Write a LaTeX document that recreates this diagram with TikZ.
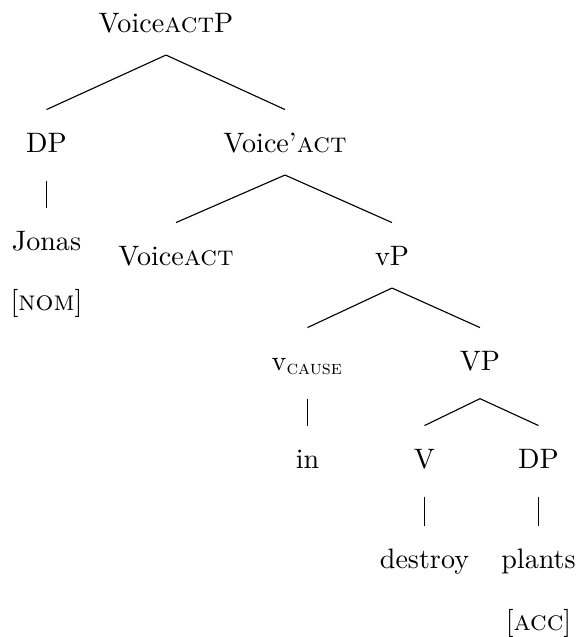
\documentclass[tikz,border=0pt]{standalone}

\tikzset{
  cat/.style={anchor=base, inner xsep=0pt, inner ysep=8pt, text height=6.9pt, text depth=#1},
  cat/.default=2pt,
  branch/.style={thin},
}

\begin{document}
\begin{tikzpicture}[x=0.3559pt, y=-0.3559pt]
\useasboundingbox (0,0) rectangle (578,637);
% categories, top down
\node[cat=-2.5pt] (voiceactp) at (166,32) {Voice\textsc{act}P};
\node[cat] (dpsubj) at (46.5,152) {DP};
\node[cat=-1.8pt] (voicebar) at (285,152) {Voice'\textsc{act}};
\node[cat] (jonas) at (46.5,250) {Jonas};
\node[cat] (nom) at (46.5,310) {[\textsc{nom}]};
\node[cat] (voicehead) at (176,265) {Voice\textsc{act}};
\node[cat=-0.4pt] (vp) at (392,265) {vP};
\node[cat] (vcause) at (307.5,370) {v\textsubscript{\textsc{cause}}};
\node[cat] (bigvp) at (480,370) {VP};
\node[cat] (in) at (307.5,468) {in};
\node[cat] (verb) at (424.5,468) {V};
\node[cat] (dpobj) at (538.5,468) {DP};
\node[cat] (destroy) at (424.5,568) {destroy};
\node[cat] (plants) at (538.5,568) {plants};
\node[cat] (acc) at (538.5,630) {[\textsc{acc}]};
% branches
\draw[branch] (voiceactp.south) -- (dpsubj.north);
\draw[branch] (voiceactp.south) -- (voicebar.north);
\draw[branch] (dpsubj.south) -- (jonas.north);
\draw[branch] (voicebar.south) -- (voicehead.north);
\draw[branch] (voicebar.south) -- (vp.north);
\draw[branch] (vp.south) -- (vcause.north);
\draw[branch] (vp.south) -- (bigvp.north);
\draw[branch] (vcause.south) -- (in.north);
\draw[branch] (bigvp.south) -- (verb.north);
\draw[branch] (bigvp.south) -- (dpobj.north);
\draw[branch] (verb.south) -- (destroy.north);
\draw[branch] (dpobj.south) -- (plants.north);
\end{tikzpicture}
\end{document}
